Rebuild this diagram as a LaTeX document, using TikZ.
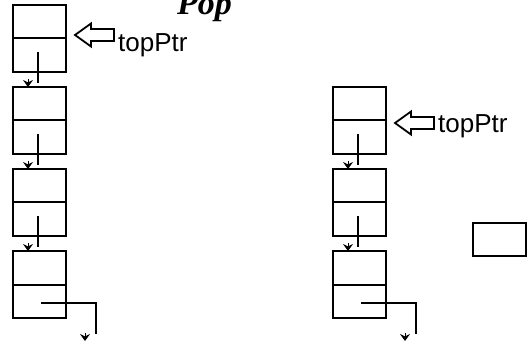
\documentclass[tikz,border=0pt]{standalone}
\usepackage{fontspec}
\setmainfont{Liberation Serif}
\setsansfont{Liberation Sans}
\usetikzlibrary{positioning,arrows.meta}

\tikzset{
  cell/.style={draw, line width=2pt, minimum width=53pt, minimum height=33.5pt, inner sep=0pt, outer sep=0pt},
  link/.style={line width=2pt},
  tipv/.style={-{Stealth[length=7pt,width=10pt,inset=2.5pt]}, line width=1pt},
  ptrtext/.style={font=\sffamily\fontsize{26}{26}\selectfont, inner sep=0pt, anchor=base west},
}
% hollow pointer arrow, tip at #1
\newcommand{\ptrarrow}[1]{%
  \draw[line width=1.8pt] (#1) -- ++(16,-11.5) -- ++(0,5.5) -- ++(23,0) -- ++(0,12) -- ++(-23,0) -- ++(0,5.5) -- cycle;}

\begin{document}
\begin{tikzpicture}[x=1pt, y=-1pt]
	\useasboundingbox (0,0) rectangle (529,344);
	\node[font=\bfseries\itshape\fontsize{34}{34}\selectfont, anchor=base west, inner sep=0pt] (title) at (177,15) {Pop};
	% left stack
	\foreach \i/\y in {1/21.75,2/103.75,3/185.75,4/267.75}{
		\node[cell] (L\i t) at (39.5,\y) {};
		\node[cell, below=0pt of L\i t] (L\i b) {};
	}
	% right stack
	\foreach \i/\y in {2/103.75,3/185.75,4/267.75}{
		\node[cell] (R\i t) at (359.5,\y) {};
		\node[cell, below=0pt of R\i t] (R\i b) {};
	}
	\node[cell] (spare) at (499.5,239.5) {};
	% links
	\foreach \s/\i/\j in {L/1/2, L/2/3, L/3/4, R/2/3, R/3/4}{
		\draw[link] ([xshift=-1.5pt,yshift=3pt]\s\i b.center) -- ([xshift=-1.5pt,yshift=4pt]\s\j t.north);
		\draw[tipv] ([xshift=-11.5pt,yshift=8pt]\s\j t.north) -- ([xshift=-11.5pt]\s\j t.north);
	}
	\foreach \s in {L,R}{
		\coordinate (\s c) at ([xshift=30pt,yshift=-16pt]\s4b.south east);
		\coordinate (\s e) at ([xshift=19pt,yshift=-23pt]\s4b.south east);
		\draw[link] ([xshift=1.5pt,yshift=-2pt]\s4b.center) -| (\s c);
		\draw[tipv] ([yshift=8pt]\s e) -- (\s e);
	}
	% top pointers
	\ptrarrow{[xshift=9pt,yshift=3.5pt]L1t.south east}
	\node[ptrtext] (lptr) at ([xshift=52pt,yshift=-13.5pt]L1t.south east) {topPtr};
	\ptrarrow{[xshift=9pt,yshift=-2.5pt]R2t.south east}
	\node[ptrtext] (rptr) at ([xshift=52pt,yshift=-12.5pt]R2t.south east) {topPtr};
\end{tikzpicture}
\end{document}
